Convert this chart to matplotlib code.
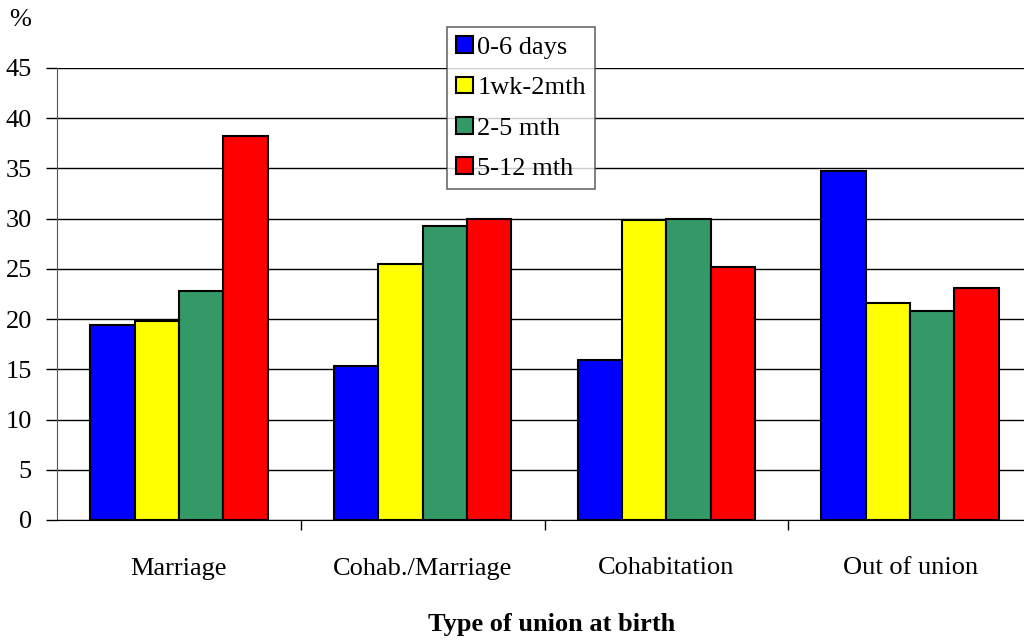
import numpy as np
import matplotlib
matplotlib.use("Agg")
import matplotlib.pyplot as plt

plt.rcParams['font.family'] = ['Liberation Serif', 'DejaVu Serif']

# categories, series and values (percent)
categories = ['Marriage', 'Cohab./Marriage', 'Cohabitation', 'Out of union']
series = ['0-6 days', '1wk-2mth', '2-5 mth', '5-12 mth']
values = [
    [19.4, 15.3, 15.9, 34.7],   # 0-6 days
    [19.8, 25.5, 29.9, 21.6],   # 1wk-2mth
    [22.8, 29.3, 30.0, 20.8],   # 2-5 mth
    [38.2, 30.0, 25.2, 23.1],   # 5-12 mth
]
colors = ['#0000FF', '#FFFF00', '#339966', '#FF0000']

FS = 19
W, H = 1024, 642
fig = plt.figure(figsize=(W / 100, H / 100), dpi=100)
ax = fig.add_axes([57 / W, (H - 520) / H, (1032 - 57) / W, (520 - 68) / H])

x = np.arange(len(categories)) + 0.5
bw = 0.182
for i in range(len(series)):
    ax.bar(x + (i - 1.5) * bw, values[i], width=bw, color=colors[i],
           edgecolor='black', linewidth=1.5, label=series[i], zorder=3)

ax.set_xlim(0, 4)
ax.set_ylim(0, 45)
ax.set_yticks(np.arange(0, 46, 5))
ax.yaxis.grid(True, color='black', linewidth=1, zorder=0)
ax.set_axisbelow(True)

ax.set_xticks([1, 2, 3])
ax.set_xticklabels([])
ax.set_xticks(x, minor=True)
ax.set_xticklabels(categories, minor=True, fontsize=FS)
ax.tick_params(axis='x', which='major', length=7, width=1, direction='out')
ax.tick_params(axis='x', which='minor', length=0, pad=27)
ax.tick_params(axis='y', length=8, width=1, direction='out', labelsize=FS, pad=10)

for s in ['top', 'right']:
    ax.spines[s].set_visible(False)
ax.spines['left'].set_color('#555555')
ax.spines['bottom'].set_color('black')

fig.text(20 / W, 1 - 20 / H, '%', fontsize=FS, ha='center', va='center')
fig.text(552 / W, 1 - 624 / H, 'Type of union at birth', fontsize=FS,
         fontweight='bold', ha='center', va='center')

leg = ax.legend(loc='upper left', bbox_to_anchor=(447 / W, 1 - 27 / H),
                bbox_transform=fig.transFigure, fontsize=FS, frameon=True,
                fancybox=False, borderpad=0.35, labelspacing=0.67,
                handlelength=0.65, handleheight=0.6, handletextpad=0.15,
                borderaxespad=0)
leg.get_frame().set_edgecolor('#444444')
leg.get_frame().set_linewidth(1.2)
leg.set_zorder(5)

fig.savefig('out.png', dpi=100)
